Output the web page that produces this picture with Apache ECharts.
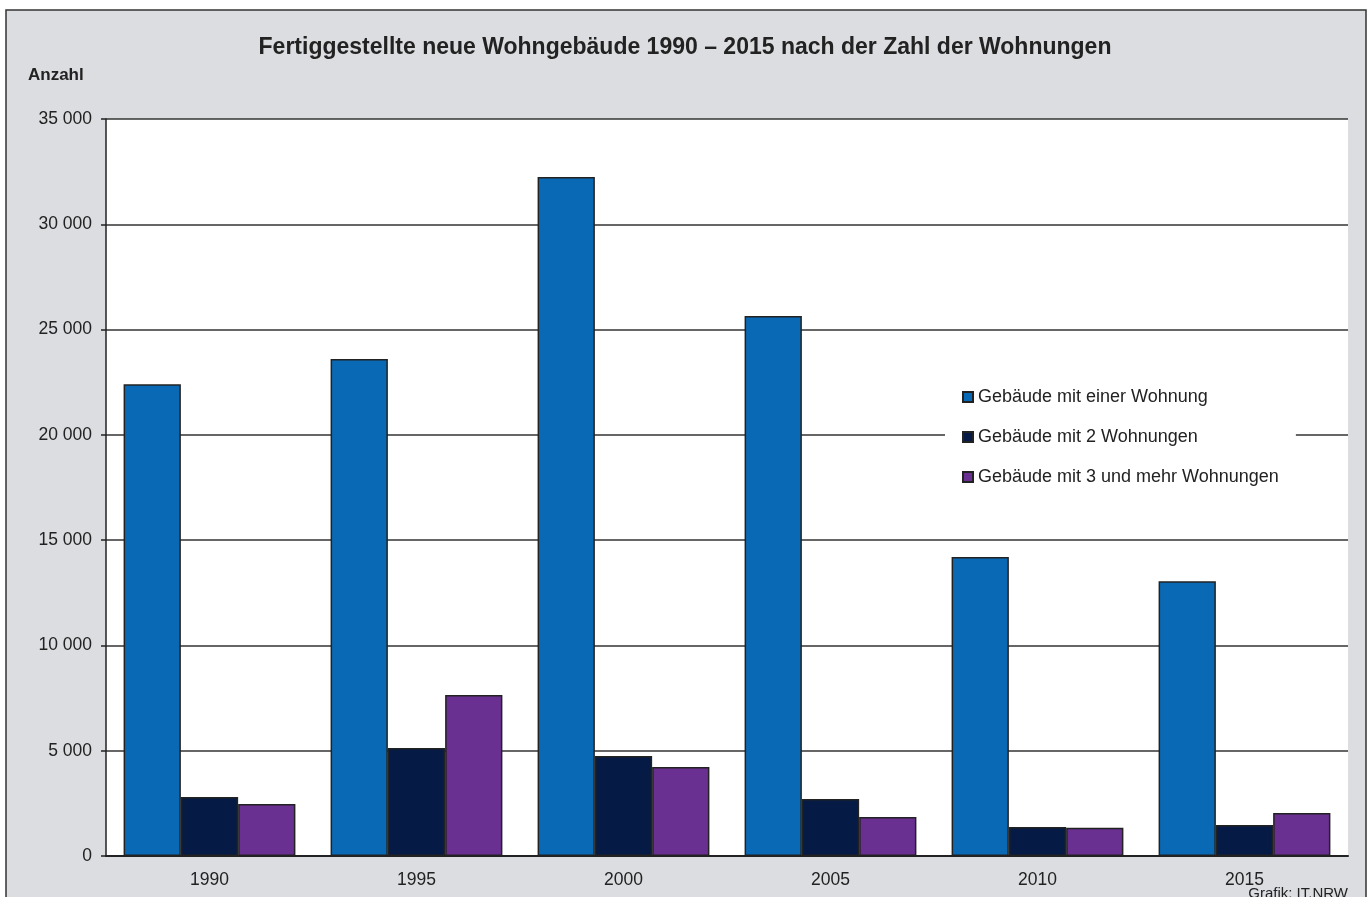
<!DOCTYPE html>
<html>
<head>
<meta charset="utf-8">
<script src="https://cdn.jsdelivr.net/npm/echarts@6/dist/echarts.min.js"></script>
<style>
  html, body { margin: 0; padding: 0; background: #fff; }
  #chart { width: 1370px; height: 897px; }
</style>
</head>
<body>
<div id="chart"></div>
<script>
const years = ['1990', '1995', '2000', '2005', '2010', '2015'];
const oneFlat = [22400, 23600, 32250, 25650, 14200, 13050];
const twoFlats = [2800, 5130, 4750, 2710, 1380, 1470];
const threePlus = [2470, 7650, 4230, 1850, 1340, 2040];
const seriesNames = ['Gebäude mit einer Wohnung', 'Gebäude mit 2 Wohnungen', 'Gebäude mit 3 und mehr Wohnungen'];
const colors = ['#0a69b4', '#051a45', '#692f91'];

const chart = echarts.init(document.getElementById('chart'));
const font = '"Liberation Sans", Arial, sans-serif';

const fmt = v => String(v).replace(/\B(?=(\d{3})+(?!\d))/g, ' ');

const barStyle = c => ({ color: c, borderColor: '#222', borderWidth: 1.5 });

chart.setOption({
  backgroundColor: '#fff',
  textStyle: { fontFamily: font, color: '#222' },
  title: {
    text: 'Fertiggestellte neue Wohngebäude 1990 – 2015 nach der Zahl der Wohnungen',
    left: 'center',
    top: 31,
    textStyle: { fontSize: 23, fontWeight: 'bold', color: '#222', fontFamily: font }
  },
  graphic: [
    {
      type: 'rect', z: -10, silent: true,
      shape: { x: 6, y: 10, width: 1360, height: 900 },
      style: { fill: '#dcdde0', stroke: '#333', lineWidth: 1.5 }
    },
    {
      type: 'rect', z: -9, silent: true,
      shape: { x: 106, y: 119, width: 1242, height: 737 },
      style: { fill: '#fff' }
    },
    {
      type: 'text', left: 28, top: 67,
      style: { text: 'Anzahl', font: 'bold 17px ' + font, fill: '#222' }
    },
    {
      type: 'text', right: 22, top: 886,
      style: { text: 'Grafik: IT.NRW', font: '15px ' + font, fill: '#222' }
    }
  ],
  legend: {
    orient: 'vertical',
    left: 945,
    top: 377,
    padding: [10, 17, 10, 17],
    itemGap: 20,
    itemWidth: 10,
    itemHeight: 10,
    icon: 'rect',
    backgroundColor: '#fff',
    textStyle: { fontSize: 18, lineHeight: 20, color: '#222', fontFamily: font },
    data: seriesNames
  },
  grid: { left: 106, right: 22, top: 119, bottom: 41 },
  xAxis: {
    type: 'category',
    data: years,
    axisLine: { lineStyle: { color: '#222', width: 2 } },
    axisTick: { show: false },
    axisLabel: { fontSize: 17.5, color: '#222', margin: 15 }
  },
  yAxis: {
    type: 'value',
    min: 0,
    max: 35000,
    interval: 5000,
    axisLine: { show: true, lineStyle: { color: '#222', width: 1.5 } },
    axisTick: { show: true, length: 5, lineStyle: { color: '#222', width: 1.5 } },
    axisLabel: { fontSize: 17.5, color: '#222', margin: 14, formatter: fmt },
    splitLine: { lineStyle: { color: '#333', width: 1.5 } }
  },
  series: [
    { name: seriesNames[0], type: 'bar', data: oneFlat, barGap: '0%', barCategoryGap: '17%', itemStyle: barStyle(colors[0]) },
    { name: seriesNames[1], type: 'bar', data: twoFlats, barGap: '0%', barCategoryGap: '17%', itemStyle: barStyle(colors[1]) },
    { name: seriesNames[2], type: 'bar', data: threePlus, barGap: '0%', barCategoryGap: '17%', itemStyle: barStyle(colors[2]) }
  ]
});
</script>
</body>
</html>
